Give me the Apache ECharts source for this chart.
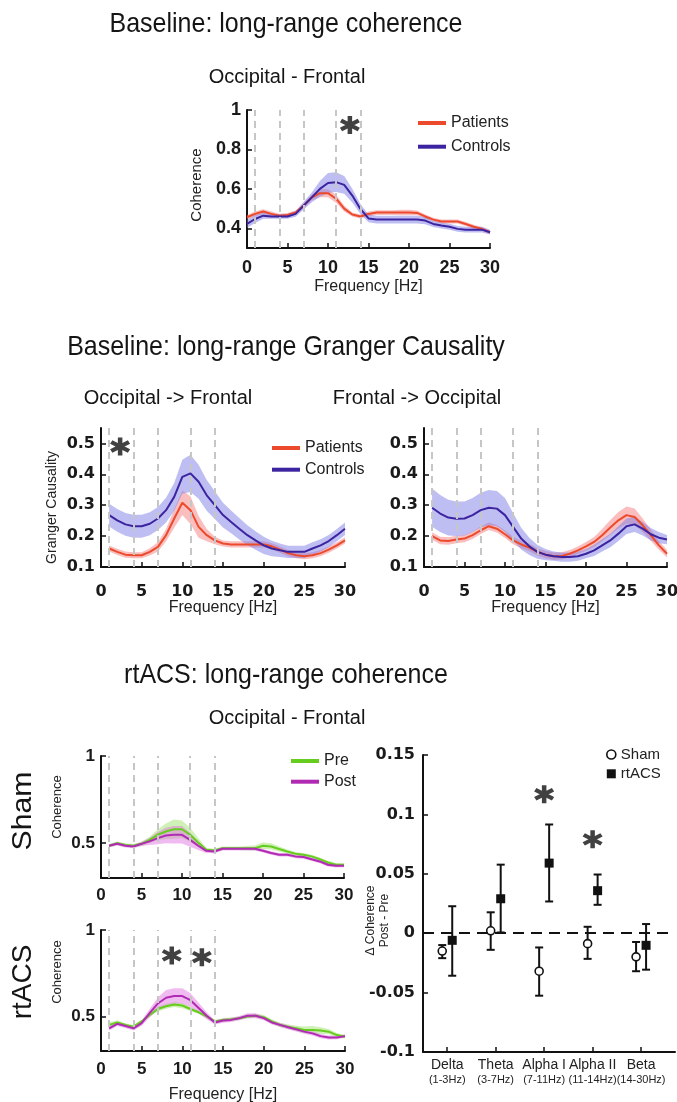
<!DOCTYPE html>
<html><head><meta charset="utf-8">
<script src="https://cdn.jsdelivr.net/npm/echarts@6/dist/echarts.min.js"></script>
<style>html,body{margin:0;padding:0;background:#fff}#c{width:677px;height:1102px}</style>
</head><body><div id="c"></div>
<script>
// ---------- data ----------
const freqTop = [0,1,2,3,4,5,6,7,8,9,10,11,12,13,14,15,16,17,18,19,20,21,22,23,24,25,26,27,28,29,30];
const freq = [1,2,3,4,5,6,7,8,9,10,11,12,13,14,15,16,17,18,19,20,21,22,23,24,25,26,27,28,29,30];
const bandEdges = [1,4,7,11,14];
const xTicks = [0,5,10,15,20,25,30];

// Baseline coherence Occipital - Frontal
const topPatients = [0.456,0.473,0.485,0.473,0.464,0.468,0.48,0.515,0.557,0.578,0.578,0.55,0.50,0.47,0.46,0.473,0.48,0.48,0.48,0.48,0.48,0.478,0.46,0.444,0.434,0.434,0.434,0.422,0.408,0.397,0.38];
const topPatientsErr = [0.012,0.012,0.012,0.012,0.01,0.01,0.01,0.012,0.015,0.02,0.02,0.02,0.015,0.01,0.01,0.012,0.012,0.012,0.012,0.014,0.014,0.012,0.01,0.01,0.01,0.01,0.01,0.01,0.01,0.01,0.01];
const topControls = [0.422,0.447,0.464,0.46,0.46,0.46,0.473,0.515,0.557,0.60,0.63,0.634,0.62,0.566,0.498,0.45,0.444,0.444,0.444,0.444,0.444,0.444,0.439,0.422,0.414,0.408,0.397,0.393,0.393,0.393,0.38];
const topControlsErr = [0.02,0.02,0.015,0.012,0.012,0.012,0.015,0.02,0.025,0.04,0.05,0.05,0.045,0.035,0.025,0.02,0.02,0.02,0.02,0.02,0.02,0.02,0.018,0.015,0.015,0.015,0.015,0.015,0.015,0.015,0.012];

// Granger causality Occipital -> Frontal
const ofControls = [0.268,0.251,0.238,0.232,0.232,0.24,0.257,0.284,0.327,0.392,0.403,0.376,0.332,0.3,0.268,0.246,0.224,0.203,0.186,0.17,0.16,0.154,0.149,0.149,0.149,0.16,0.17,0.184,0.203,0.224];
const ofControlsErr = [0.037,0.037,0.037,0.037,0.037,0.037,0.037,0.04,0.045,0.055,0.06,0.055,0.05,0.045,0.04,0.037,0.035,0.032,0.03,0.028,0.025,0.022,0.02,0.02,0.02,0.02,0.02,0.02,0.02,0.02];
const ofPatients = [0.16,0.149,0.14,0.138,0.138,0.149,0.165,0.203,0.257,0.308,0.284,0.23,0.203,0.186,0.176,0.173,0.173,0.173,0.173,0.173,0.167,0.156,0.145,0.138,0.135,0.138,0.145,0.156,0.17,0.186];
const ofPatientsErr = [0.01,0.01,0.01,0.01,0.01,0.012,0.015,0.02,0.03,0.04,0.045,0.035,0.02,0.012,0.01,0.01,0.01,0.01,0.01,0.01,0.01,0.01,0.01,0.01,0.01,0.01,0.01,0.01,0.01,0.01];

// Granger causality Frontal -> Occipital
const foControls = [0.292,0.273,0.26,0.256,0.257,0.268,0.284,0.292,0.289,0.268,0.23,0.192,0.167,0.149,0.14,0.135,0.132,0.132,0.135,0.143,0.154,0.17,0.186,0.208,0.232,0.238,0.224,0.206,0.195,0.189];
const foControlsErr = [0.062,0.06,0.058,0.056,0.055,0.055,0.056,0.057,0.057,0.055,0.045,0.035,0.028,0.022,0.018,0.015,0.015,0.015,0.015,0.015,0.018,0.02,0.022,0.024,0.025,0.025,0.022,0.02,0.018,0.015];
const foPatients = [0.2,0.186,0.184,0.189,0.192,0.203,0.219,0.232,0.224,0.206,0.186,0.173,0.163,0.149,0.14,0.135,0.136,0.143,0.154,0.167,0.181,0.203,0.228,0.251,0.268,0.262,0.235,0.203,0.17,0.143];
const foPatientsErr = [0.012,0.012,0.012,0.012,0.012,0.012,0.012,0.012,0.012,0.012,0.012,0.012,0.012,0.012,0.012,0.012,0.012,0.012,0.012,0.014,0.016,0.02,0.024,0.027,0.028,0.027,0.022,0.018,0.014,0.012];

// rtACS coherence, Sham session
const shamPre = [0.485,0.5,0.49,0.485,0.496,0.519,0.548,0.567,0.58,0.58,0.548,0.504,0.462,0.458,0.471,0.471,0.471,0.471,0.471,0.485,0.481,0.466,0.452,0.439,0.433,0.424,0.408,0.389,0.376,0.376];
const shamPreErr = [0.01,0.01,0.01,0.01,0.012,0.018,0.03,0.045,0.055,0.05,0.04,0.025,0.012,0.01,0.01,0.01,0.01,0.012,0.015,0.018,0.018,0.015,0.012,0.01,0.01,0.01,0.01,0.01,0.01,0.008];
const shamPost = [0.485,0.496,0.485,0.481,0.496,0.51,0.529,0.544,0.548,0.548,0.519,0.485,0.456,0.452,0.468,0.468,0.468,0.468,0.468,0.456,0.443,0.433,0.433,0.424,0.42,0.408,0.395,0.376,0.37,0.37];
const shamPostErr = [0.008,0.01,0.01,0.01,0.012,0.02,0.035,0.045,0.05,0.05,0.04,0.025,0.012,0.01,0.01,0.01,0.01,0.01,0.01,0.01,0.01,0.01,0.01,0.01,0.01,0.01,0.01,0.01,0.01,0.008];

// rtACS coherence, rtACS session
const rtPre = [0.451,0.465,0.451,0.441,0.471,0.51,0.543,0.559,0.569,0.563,0.543,0.524,0.5,0.471,0.48,0.484,0.49,0.5,0.504,0.496,0.471,0.451,0.441,0.431,0.422,0.422,0.418,0.412,0.392,0.382];
const rtPreErr = [0.015,0.012,0.01,0.01,0.01,0.012,0.015,0.015,0.015,0.015,0.012,0.01,0.01,0.01,0.01,0.01,0.01,0.01,0.012,0.012,0.012,0.012,0.012,0.015,0.02,0.022,0.02,0.015,0.012,0.01];
const rtPost = [0.431,0.457,0.445,0.431,0.461,0.52,0.575,0.608,0.618,0.618,0.594,0.549,0.504,0.465,0.476,0.48,0.49,0.504,0.504,0.49,0.465,0.451,0.437,0.425,0.412,0.402,0.386,0.378,0.378,0.386];
const rtPostErr = [0.012,0.012,0.012,0.012,0.015,0.025,0.035,0.045,0.045,0.045,0.04,0.03,0.02,0.012,0.012,0.012,0.012,0.015,0.015,0.012,0.012,0.012,0.012,0.012,0.012,0.012,0.012,0.012,0.01,0.01];

// Delta coherence (Post - Pre) per band
const bandNames = ['Delta','Theta','Alpha I','Alpha II','Beta'];
const bandRanges = ['(1-3Hz)','(3-7Hz)','(7-11Hz)','(11-14Hz)','(14-30Hz)'];
const shamMean = [-0.015,0.002,-0.032,-0.0088,-0.0199];
const shamLo   = [-0.021,-0.014,-0.0526,-0.0216,-0.032];
const shamHi   = [-0.01,0.0176,-0.012,0.0054,-0.0074];
const rtacsMean = [-0.006,0.029,0.059,0.0358,-0.0102];
const rtacsLo   = [-0.0358,0.0006,0.0267,0.0239,-0.0307];
const rtacsHi   = [0.0227,0.0577,0.0915,0.0494,0.0077];

// significance markers (data coords)
const starsTop = [[12.7,0.924]];
const starsOF = [[2.35,0.49]];
const starsRt = [[8.7,0.853],[12.4,0.843]];
const starsDiff = [[3,0.117],[4,0.079]];

// ---------- styling ----------
const RED='#ec4a2c', PURPLE='#3c24a0', GREEN='#66cc1e', MAGENTA='#b02ab4';
const RED_B='rgba(245,125,125,0.5)', PURPLE_B='rgba(125,125,232,0.5)';
const GREEN_B='rgba(160,228,110,0.5)', MAGENTA_B='rgba(225,120,225,0.5)';
const FF='Liberation Sans, Arial, sans-serif';
const STAR = 'path://M-2.2,-10L2.2,-10L2.2,10L-2.2,10Z' +
  'M7.56,-6.905L9.76,-3.095L-7.56,6.905L-9.76,3.095Z' +
  'M-9.76,-3.095L-7.56,-6.905L9.76,3.095L7.56,6.905Z';

const series = [];
function bandSeries(gi, xs, mean, err, color, withMarks){
  const lo = xs.map((x,i)=>mean[i]-err[i]);
  const hi = xs.map((x,i)=>mean[i]+err[i]);
  const s = {type:'custom', name:'band', xAxisIndex:gi, yAxisIndex:gi, silent:true, z:1,
    encode:{x:0, y:[1,2]},
    data: xs.map((x,i)=>[x, lo[i], hi[i]]),
    renderItem:function(params, api){
      if (params.dataIndex !== 0) return null;
      const pts = [];
      for (let i=0;i<xs.length;i++) pts.push(api.coord([xs[i], hi[i]]));
      for (let i=xs.length-1;i>=0;i--) pts.push(api.coord([xs[i], lo[i]]));
      return {type:'polygon', shape:{points:pts}, style:{fill:color}};
    }};
  if (withMarks) s.markLine = {silent:true, symbol:['none','none'], label:{show:false},
    lineStyle:{color:'#c6c6c6', type:[7,5], width:2}, data: bandEdges.map(v=>({xAxis:v}))};
  return s;
}
function addPanel(gi, xs, specs){
  specs.forEach((s, k) => series.push(bandSeries(gi, xs, s.mean, s.err, s.band, k===0)));
  specs.forEach(s => {
    series.push({type:'line', name:s.name, xAxisIndex:gi, yAxisIndex:gi, symbol:'none', color:s.color,
      lineStyle:{color:s.color, width:2}, data: xs.map((x,i)=>[x, s.mean[i]]), z:3});
  });
}
function addStars(gi, pts){
  series.push({type:'scatter', name:'stars'+gi, xAxisIndex:gi, yAxisIndex:gi, symbol:STAR, symbolSize:[20,18],
    silent:true, itemStyle:{color:'#111'}, z:5, data: pts});
}

addPanel(0, freqTop, [
  {name:'Patients', color:RED, band:RED_B, mean:topPatients, err:topPatientsErr},
  {name:'Controls', color:PURPLE, band:PURPLE_B, mean:topControls, err:topControlsErr}]);
addPanel(1, freq, [
  {name:'Patients', color:RED, band:RED_B, mean:ofPatients, err:ofPatientsErr},
  {name:'Controls', color:PURPLE, band:PURPLE_B, mean:ofControls, err:ofControlsErr}]);
addPanel(2, freq, [
  {name:'Patients', color:RED, band:RED_B, mean:foPatients, err:foPatientsErr},
  {name:'Controls', color:PURPLE, band:PURPLE_B, mean:foControls, err:foControlsErr}]);
addPanel(3, freq, [
  {name:'Pre', color:GREEN, band:GREEN_B, mean:shamPre, err:shamPreErr},
  {name:'Post', color:MAGENTA, band:MAGENTA_B, mean:shamPost, err:shamPostErr}]);
addPanel(4, freq, [
  {name:'Pre', color:GREEN, band:GREEN_B, mean:rtPre, err:rtPreErr},
  {name:'Post', color:MAGENTA, band:MAGENTA_B, mean:rtPost, err:rtPostErr}]);
addStars(0, starsTop);
addStars(1, starsOF);
addStars(4, starsRt);
addStars(5, starsDiff);

// error-bar series for the band summary
function errSeries(name, mean, lo, hi, dx, square){
  return {type:'custom', name:name, xAxisIndex:5, yAxisIndex:5, z:4,
    encode:{x:0, y:[1,2,3]},
    data: bandNames.map((_,i)=>[i+1, mean[i], lo[i], hi[i]]),
    renderItem:function(params, api){
      const p = api.coord([api.value(0), api.value(1)]);
      const pl = api.coord([api.value(0), api.value(2)]);
      const ph = api.coord([api.value(0), api.value(3)]);
      const x = p[0] + dx, cw = 4;
      const ls = {stroke:'#111', lineWidth:2};
      const ch = [
        {type:'line', shape:{x1:x, y1:ph[1], x2:x, y2:pl[1]}, style:ls},
        {type:'line', shape:{x1:x-cw, y1:ph[1], x2:x+cw, y2:ph[1]}, style:ls},
        {type:'line', shape:{x1:x-cw, y1:pl[1], x2:x+cw, y2:pl[1]}, style:ls}
      ];
      if (square) ch.push({type:'rect', shape:{x:x-4.5, y:p[1]-4.5, width:9, height:9}, style:{fill:'#111'}});
      else ch.push({type:'circle', shape:{cx:x, cy:p[1], r:4}, style:{fill:'#fff', stroke:'#111', lineWidth:1.6}});
      return {type:'group', children:ch};
    }};
}
series.push(errSeries('Sham', shamMean, shamLo, shamHi, -5, false));
series.push(errSeries('rtACS', rtacsMean, rtacsLo, rtacsHi, 5, true));
series[series.length-1].markLine = {silent:true, symbol:['none','none'], label:{show:false},
  lineStyle:{color:'#111', type:[11,7], width:2}, data:[{yAxis:0}]};

// ---------- axes ----------
function axisBase(){
  return {axisLine:{show:true, onZero:false, lineStyle:{color:'#111', width:2}}, splitLine:{show:false},
    nameMoveOverlap:false};
}
function xAx(gi, o){
  return Object.assign(axisBase(), {type:'value', gridIndex:gi, min:o.min===undefined?0:o.min, max:o.max===undefined?30:o.max,
    axisTick:{inside:true, length:5, lineStyle:{color:'#111', width:1.5}, customValues:o.ticks||xTicks},
    axisLabel:Object.assign({customValues:o.ticks||xTicks, margin:o.margin, fontSize:o.fs||17, fontWeight:'bold',
      fontFamily:o.ff||FF, color:'#1a1a1a'}, o.label||{}),
    name:o.name||'', nameLocation:'middle', nameGap:o.nameGap||30,
    nameTextStyle:{fontSize:16, color:'#222', fontFamily:FF}});
}
function yAx(gi, o){
  return Object.assign(axisBase(), {type:'value', gridIndex:gi, min:o.min, max:o.max,
    axisTick:{inside:true, length:5, lineStyle:{color:'#111', width:1.5}, customValues:o.ticks},
    axisLabel:Object.assign({customValues:o.ticks, margin:o.margin||6, fontSize:o.fs||17, fontWeight:'bold',
      fontFamily:o.ff||FF, color:'#1a1a1a'}, o.label||{}),
    name:o.name||'', nameLocation:'middle', nameGap:o.nameGap||40,
    nameTextStyle:Object.assign({fontSize:o.nfs||13, color:'#222', fontFamily:FF}, o.nts||{})});
}
const DJ='DejaVu Sans, sans-serif';
const xAxis = [
  xAx(0, {margin:11, fs:18, name:'Frequency [Hz]', nameGap:31}),
  xAx(1, {margin:17, fs:16, ff:DJ, name:'Frequency [Hz]', nameGap:33}),
  xAx(2, {margin:17, fs:16, ff:DJ, name:'Frequency [Hz]', nameGap:33}),
  xAx(3, {margin:9, fs:17}),
  xAx(4, {margin:10, fs:17, name:'Frequency [Hz]', nameGap:36}),
  xAx(5, {min:0.5, max:5.7, ticks:[1,2,3,4,5], margin:6,
    label:{fontWeight:'normal', formatter:function(v){const i=Math.round(v)-1; return '{a|'+bandNames[i]+'}\n{b|'+bandRanges[i]+'}';},
      rich:{a:{fontSize:14, lineHeight:15, fontFamily:FF, color:'#222'}, b:{fontSize:11, lineHeight:13, fontFamily:FF, color:'#222'}}}})
];
const yAxis = [
  yAx(0, {min:0.3, max:1, ticks:[0.4,0.6,0.8,1], fs:18, name:'Coherence', nameGap:43, nfs:15, nts:{padding:[0,12,0,0]}}),
  yAx(1, {min:0.1, max:0.55, ticks:[0.1,0.2,0.3,0.4,0.5], fs:16, ff:DJ, name:'Granger Causality', nameGap:42, nfs:14, nts:{padding:[0,20,0,0]}}),
  yAx(2, {min:0.1, max:0.55, ticks:[0.1,0.2,0.3,0.4,0.5], fs:16, ff:DJ}),
  yAx(3, {min:0.3, max:1, ticks:[0.5,1], fs:17, name:'Coherence', nameGap:37, nfs:13, nts:{padding:[0,0,0,20]}}),
  yAx(4, {min:0.3, max:1, ticks:[0.5,1], fs:17, name:'Coherence', nameGap:37, nfs:13, nts:{padding:[0,0,0,37]}}),
  yAx(5, {min:-0.1, max:0.15, ticks:[-0.1,-0.05,0,0.05,0.1,0.15], fs:16, ff:DJ, margin:8,
    name:'\u0394 Coherence\nPost - Pre', nameGap:31, nfs:12, nts:{lineHeight:14, padding:[0,34,0,0]}})
];

const legText = {fontSize:16, color:'#222', fontFamily:FF, lineHeight:18};
const legend = [
  {orient:'vertical', left:413, top:109, itemWidth:28, itemHeight:4, itemGap:5.7, icon:'rect', selectedMode:false,
    data:['Patients','Controls'], textStyle:legText},
  {orient:'vertical', left:267, top:434, itemWidth:28, itemHeight:4, itemGap:3.7, icon:'rect', selectedMode:false,
    data:['Patients','Controls'], textStyle:legText},
  {orient:'vertical', left:286, top:747, itemWidth:28, itemHeight:4, itemGap:2.7, icon:'rect', selectedMode:false,
    data:['Pre','Post'], textStyle:legText},
  {orient:'vertical', left:601, top:741, itemWidth:9, itemHeight:9, itemGap:2.3, selectedMode:false,
    data:[{name:'Sham', icon:'circle', itemStyle:{color:'#fff', borderColor:'#111', borderWidth:1.6}},
          {name:'rtACS', icon:'rect', itemStyle:{color:'#111'}}],
    textStyle:{fontSize:15, color:'#222', fontFamily:FF, lineHeight:17}}
];

function gtext(x, y, text, size, extra){
  return Object.assign({type:'text', x:x, y:y, style:{text:text, fontSize:size, fontFamily:FF, fill:'#151515',
    align:'center', verticalAlign:'middle'}}, extra||{});
}
const graphic = [
  gtext(286, 24, 'Baseline: long-range coherence', 25, {scaleY:1.12}),
  gtext(287, 77, 'Occipital - Frontal', 20),
  gtext(286, 347, 'Baseline: long-range Granger Causality', 25, {scaleY:1.12}),
  gtext(168, 398, 'Occipital -> Frontal', 20),
  gtext(417, 398, 'Frontal -> Occipital', 20),
  gtext(286, 675, 'rtACS: long-range coherence', 25, {scaleY:1.12}),
  gtext(287, 718, 'Occipital - Frontal', 20),
  gtext(23, 811, 'Sham', 28, {rotation:Math.PI/2, scaleX:1.08}),
  gtext(23, 982, 'rtACS', 28, {rotation:Math.PI/2})
];

const gridOpts = {containLabel:false, outerBoundsMode:'none'};
const grid = [
  {left:247, top:110, width:243, height:138},
  {left:101, top:428, width:244, height:139},
  {left:424, top:428, width:243, height:139},
  {left:101, top:756, width:243, height:122},
  {left:101, top:930, width:244, height:121},
  {left:423, top:755, width:252, height:297}
].map(g => Object.assign({}, gridOpts, g));

const chart = echarts.init(document.getElementById('c'), null, {renderer:'canvas'});
chart.setOption({animation:false, backgroundColor:'#fff', grid, xAxis, yAxis, legend, graphic, series});
</script></body></html>
